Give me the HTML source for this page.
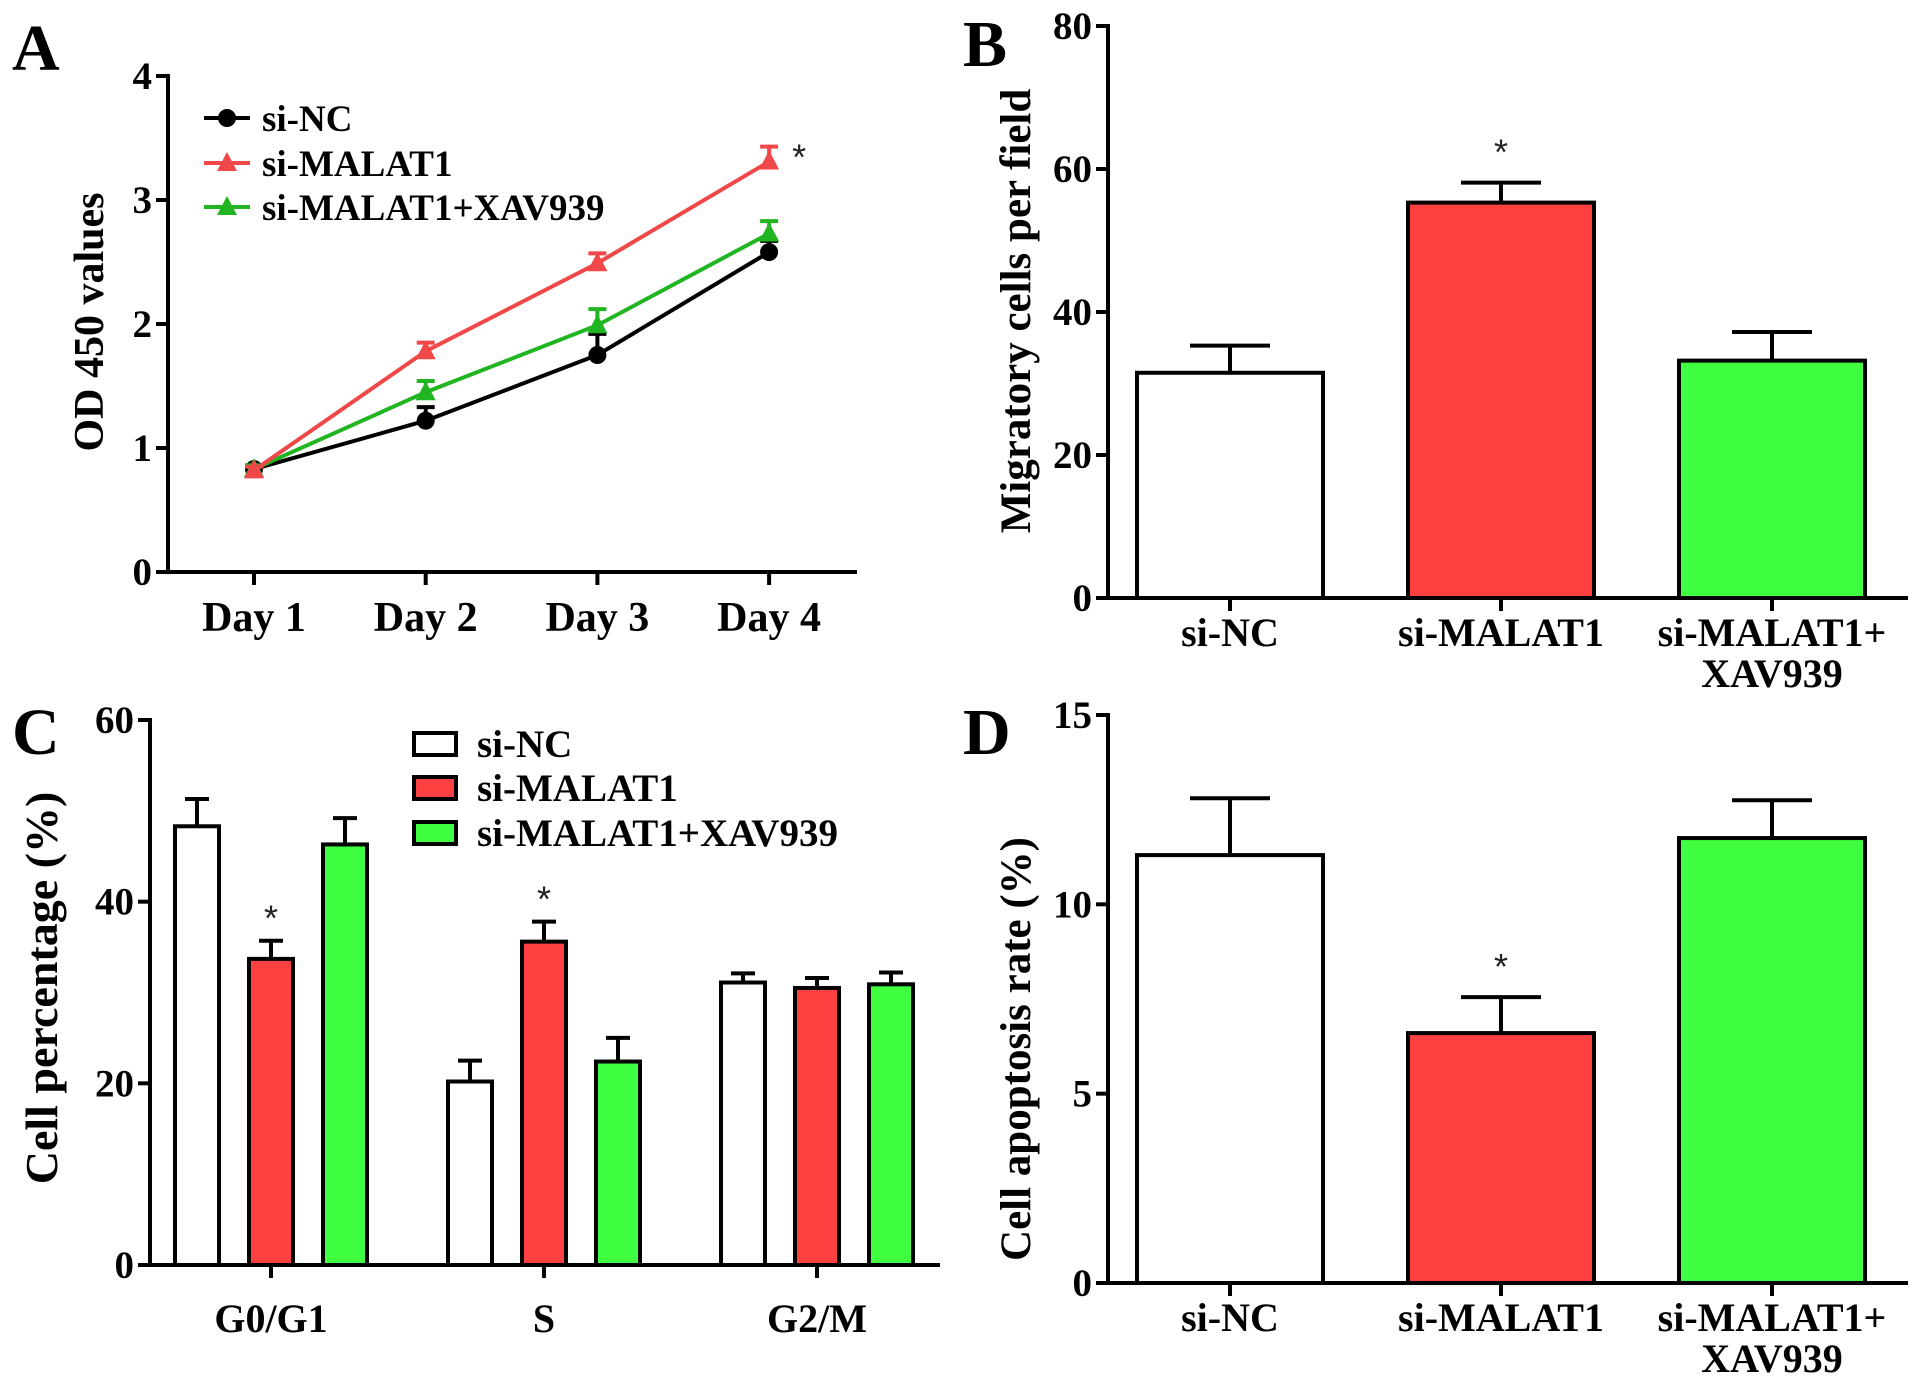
<!DOCTYPE html>
<html><head><meta charset="utf-8"><style>
html,body{margin:0;padding:0;background:#fff}
svg{display:block;font-family:"Liberation Serif",serif;font-weight:bold}
</style></head><body>
<svg id="fig" width="1913" height="1393" viewBox="0 0 1913 1393" xmlns="http://www.w3.org/2000/svg">
<text x="12" y="70" font-size="66">A</text>
<text x="963" y="66" font-size="66">B</text>
<text x="12" y="754" font-size="66">C</text>
<text x="963" y="754" font-size="66">D</text>
</svg>
<script>
const NS="http://www.w3.org/2000/svg";
const svg=document.getElementById('fig');
function mk(tag,attrs,parent){const e=document.createElementNS(NS,tag);for(const k in attrs)e.setAttribute(k,attrs[k]);(parent||svg).appendChild(e);return e;}
function txt(x,y,s,size,anchor,parent){const t=mk('text',{x:x,y:y,'font-size':size,'text-anchor':anchor||'middle'},parent);t.textContent=s;return t;}

// ---- Panel A data ----
const daysA=["Day 1","Day 2","Day 3","Day 4"];
const ticksA=[0,1,2,3,4];
const ncA=[0.83,1.22,1.75,2.58];
const ncErrA=[0.86,1.33,1.92,2.67];
const malA=[0.82,1.78,2.49,3.31];
const malErrA=[0.85,1.85,2.57,3.43];
const xavA=[0.83,1.45,1.99,2.73];
const xavErrA=[0.86,1.54,2.12,2.83];

// ---- Panel B data ----
const groupsB=["si-NC","si-MALAT1","si-MALAT1+|XAV939"];
const ticksB=[0,20,40,60,80];
const valsB=[31.5,55.3,33.2];
const errB=[35.3,58.1,37.2];

// ---- Panel C data ----
const phasesC=["G0/G1","S","G2/M"];
const ticksC=[0,20,40,60];
const ncC=[48.3,20.2,31.1];
const ncErrC=[51.3,22.5,32.1];
const malC=[33.7,35.6,30.5];
const malErrC=[35.7,37.8,31.6];
const xavC=[46.3,22.4,30.9];
const xavErrC=[49.2,25.0,32.2];

// ---- Panel D data ----
const ticksD=[0,5,10,15];
const valsD=[11.3,6.6,11.75];
const errD=[12.8,7.55,12.75];

const COLORS=["#ffffff","#ff4040","#40ff40"];
const LCOL=["#000000","#f04848","#22b522"];

function yAxis(g,x,y0,y1,vmax,ticks,name){
  const sy=v=>y0-(v/vmax)*(y0-y1);
  const ax=mk('line',{x1:x,y1:y0+2,x2:x,y2:y1-2,stroke:'#000','stroke-width':4},g);
  
  
  ticks.forEach(t=>{
    mk('line',{x1:x-12,y1:sy(t),x2:x,y2:sy(t),stroke:'#000','stroke-width':4},g);
    const l=txt(x-16,sy(t)+13,String(t),39,'end',g);
    
    
  });
  return sy;
}
function err(g,x,yTop,yBase,hw,col){
  mk('line',{x1:x,y1:yBase,x2:x,y2:yTop,stroke:col,'stroke-width':4},g);
  mk('line',{x1:x-hw,y1:yTop,x2:x+hw,y2:yTop,stroke:col,'stroke-width':4},g);
}
function star(x,y,g){const s=txt(x,y,'*',36,'middle',g);s.setAttribute('font-family','"Liberation Sans",sans-serif');s.setAttribute('font-weight','normal');s.setAttribute('fill','#222');}

// ---- Panel A ----
(function(){
  const g=mk('g',{});
  
  
  const X0=168,Y0=572,Y1=76,XE=857;
  const sy=yAxis(g,X0,Y0,Y1,4,ticksA,'panel-a');
  mk('line',{x1:X0-2,y1:Y0,x2:XE,y2:Y0,stroke:'#000','stroke-width':4},g);
  const sx=i=>254+i*171.7;
  daysA.forEach((d,i)=>{
    mk('line',{x1:sx(i),y1:Y0,x2:sx(i),y2:Y0+13,stroke:'#000','stroke-width':4},g);
    const l=txt(sx(i),Y0+59,d,42,'middle',g);
    
    
  });
  const yt=txt(0,0,'OD 450 values',42,'middle',g);
  yt.setAttribute('transform','translate(103,322) rotate(-90)');
  
  
  const series=[[ncA,ncErrA,0,'circle'],[xavA,xavErrA,2,'tri'],[malA,malErrA,1,'tri']];
  series.forEach(([v,e,ci,m])=>{
    const col=LCOL[ci];
    v.forEach((val,i)=>err(g,sx(i),sy(e[i]),sy(val),9,col));
    const pl=mk('polyline',{points:v.map((val,i)=>sx(i)+','+sy(val)).join(' '),fill:'none',stroke:col,'stroke-width':4},g);
    
    
    v.forEach((val,i)=>{
      const x=sx(i),y=sy(val);
      if(m==='circle'){const c=mk('circle',{cx:x,cy:y,r:9,fill:col},g);}
      else{const p=mk('polygon',{points:`${x},${y-11} ${x-10},${y+8} ${x+10},${y+8}`,fill:col},g);}
    });
  });
  star(sx(3)+30,sy(3.31)+8,g);
  const leg=[['si-NC',0,'circle',118],['si-MALAT1',1,'tri',163],['si-MALAT1+XAV939',2,'tri',207]];
  leg.forEach(([n,ci,m,y])=>{
    const lg=mk('g',{},g);
    
    
    mk('line',{x1:204,y1:y,x2:250,y2:y,stroke:LCOL[ci],'stroke-width':4},lg);
    if(m==='circle')mk('circle',{cx:227,cy:y,r:9,fill:LCOL[ci]},lg);
    else mk('polygon',{points:`227,${y-11} 217,${y+8} 237,${y+8}`,fill:LCOL[ci]},lg);
    txt(262,y+13,n,37,'start',lg);
  });
})();

// ---- simple 3-bar panels (B, D) ----
function barPanel(name,vals,errs,ticks,vmax,Y0,Y1,title,titleY,starIdx){
  const g=mk('g',{});
  
  
  const X0=1108;
  const sy=yAxis(g,X0,Y0,Y1,vmax,ticks,name);
  mk('line',{x1:X0-2,y1:Y0,x2:1908,y2:Y0,stroke:'#000','stroke-width':4},g);
  const cx=i=>1230+i*271, hw=93;
  vals.forEach((v,i)=>{
    err(g,cx(i),sy(errs[i]),sy(v),40,'#000');
    const r=mk('rect',{x:cx(i)-hw,y:sy(v),width:hw*2,height:Y0-sy(v),fill:COLORS[i],stroke:'#000','stroke-width':4},g);
    
    
    mk('line',{x1:cx(i),y1:Y0,x2:cx(i),y2:Y0+13,stroke:'#000','stroke-width':4},g);
    groupsB[i].split('|').forEach((ln,k)=>{
      const l=txt(cx(i),Y0+48+k*41,ln,40,'middle',g);
      
      
    });
  });
  star(cx(starIdx),sy(errs[starIdx])-18,g);
  const yt=txt(0,0,title,43,'middle',g);
  yt.setAttribute('transform',`translate(1030,${titleY}) rotate(-90)`);
  
  
}
barPanel('panel-b-bar-chart',valsB,errB,ticksB,80,598,26,'Migratory cells per field',311,1);
barPanel('panel-d-bar-chart',valsD,errD,ticksD,15,1283,715,'Cell apoptosis rate (%)',1049,1);

// ---- Panel C ----
(function(){
  const g=mk('g',{});
  
  
  const X0=150,Y0=1265,Y1=720;
  const sy=yAxis(g,X0,Y0,Y1,60,ticksC,'panel-c');
  mk('line',{x1:X0-2,y1:Y0,x2:940,y2:Y0,stroke:'#000','stroke-width':4},g);
  const gc=i=>271+i*273, hw=22, off=74;
  const series=[[ncC,ncErrC],[malC,malErrC],[xavC,xavErrC]];
  phasesC.forEach((p,i)=>{
    mk('line',{x1:gc(i),y1:Y0,x2:gc(i),y2:Y0+13,stroke:'#000','stroke-width':4},g);
    const l=txt(gc(i),Y0+67,p,40,'middle',g);
    
    
    series.forEach(([v,e],s)=>{
      const x=gc(i)+(s-1)*off;
      err(g,x,sy(e[i]),sy(v[i]),12,'#000');
      const r=mk('rect',{x:x-hw,y:sy(v[i]),width:hw*2,height:Y0-sy(v[i]),fill:COLORS[s],stroke:'#000','stroke-width':4},g);
      
      
    });
  });
  star(gc(0),sy(malErrC[0])-10,g);
  star(gc(1),sy(malErrC[1])-10,g);
  const yt=txt(0,0,'Cell percentage (%)',46,'middle',g);
  yt.setAttribute('transform','translate(57,988) rotate(-90)');
  
  
  [['si-NC',744],['si-MALAT1',788],['si-MALAT1+XAV939',833]].forEach(([n,y],s)=>{
    const lg=mk('g',{},g);
    
    
    mk('rect',{x:414,y:y-11,width:42,height:22,fill:COLORS[s],stroke:'#000','stroke-width':4},lg);
    txt(477,y+13,n,39,'start',lg);
  });
})();
</script>
</body></html>
